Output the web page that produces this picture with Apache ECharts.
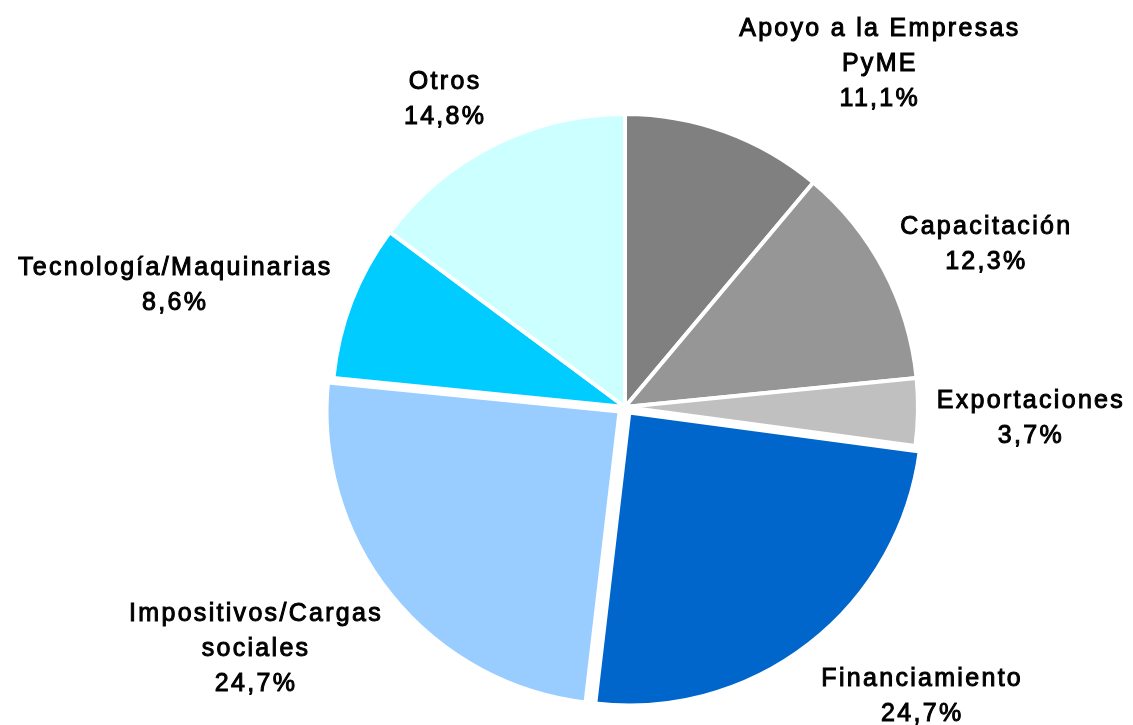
<!DOCTYPE html>
<html>
<head>
<meta charset="utf-8">
<script src="https://cdn.jsdelivr.net/npm/echarts@6/dist/echarts.min.js"></script>
<style>
html,body{margin:0;padding:0;background:#fff;}
#chart{width:1133px;height:725px;}
</style>
</head>
<body>
<div id="chart"></div>
<script>
var categories = [
  'Apoyo a la Empresas\nPyME',
  'Capacitación',
  'Exportaciones',
  'Financiamiento',
  'Impositivos/Cargas\nsociales',
  'Tecnología/Maquinarias',
  'Otros'
];
var values = [11.1, 12.3, 3.7, 24.7, 24.7, 8.6, 14.8];
var explodedSlices = ['Financiamiento', 'Impositivos/Cargas\nsociales'];

// styling (not data)
var colors = ['#808080', '#969696', '#c0c0c0', '#0066cc', '#99ccff', '#00ccff', '#ccffff'];
var labelNudges = [[117, 36], [5, 26], [3, 5], [50, -29], [-55, -11], [-74, 24], [1, 53]];

// wider glyph spacing, like the reference rendering
(function () {
  var proto = CanvasRenderingContext2D.prototype;
  var f = proto.fillText, s = proto.strokeText;
  proto.fillText = function () { if ('letterSpacing' in this) this.letterSpacing = '2.3px'; return f.apply(this, arguments); };
  proto.strokeText = function () { if ('letterSpacing' in this) this.letterSpacing = '2.3px'; return s.apply(this, arguments); };
})();

var center = [625, 407];

var pieData = categories.map(function (c, i) {
  return {
    name: c,
    value: values[i],
    selected: explodedSlices.indexOf(c) >= 0,
    itemStyle: { color: colors[i] }
  };
});

var labelData = categories.map(function (c, i) {
  return {
    name: c,
    value: values[i],
    label: { offset: labelNudges[i] }
  };
});

function fmt(p) {
  return p.name + '\n' + p.value.toFixed(1).replace('.', ',') + '%';
}

var chart = echarts.init(document.getElementById('chart'), null, { renderer: 'canvas' });
chart.setOption({
  animation: false,
  backgroundColor: '#ffffff',
  series: [
    {
      type: 'pie',
      center: center,
      radius: 293,
      startAngle: 90,
      clockwise: true,
      selectedMode: 'multiple',
      selectedOffset: 7,
      silent: true,
      itemStyle: { borderColor: '#ffffff', borderWidth: 4 },
      label: { show: false },
      labelLine: { show: false },
      emphasis: { disabled: true },
      data: pieData
    },
    {
      type: 'pie',
      center: center,
      radius: [390, 410],
      startAngle: 90,
      clockwise: true,
      silent: true,
      itemStyle: { color: 'rgba(0,0,0,0)', borderWidth: 0 },
      labelLine: { show: false },
      emphasis: { disabled: true },
      label: {
        show: true,
        position: 'inside',
        rotate: 0,
        formatter: fmt,
        color: '#000000',
        fontFamily: '"Liberation Sans", Arial, sans-serif',
        fontWeight: 'normal',
        fontSize: 25,
        lineHeight: 35,
        align: 'center',
        textBorderColor: '#000000',
        textBorderWidth: 1
      },
      data: labelData
    }
  ]
});
</script>
</body>
</html>
